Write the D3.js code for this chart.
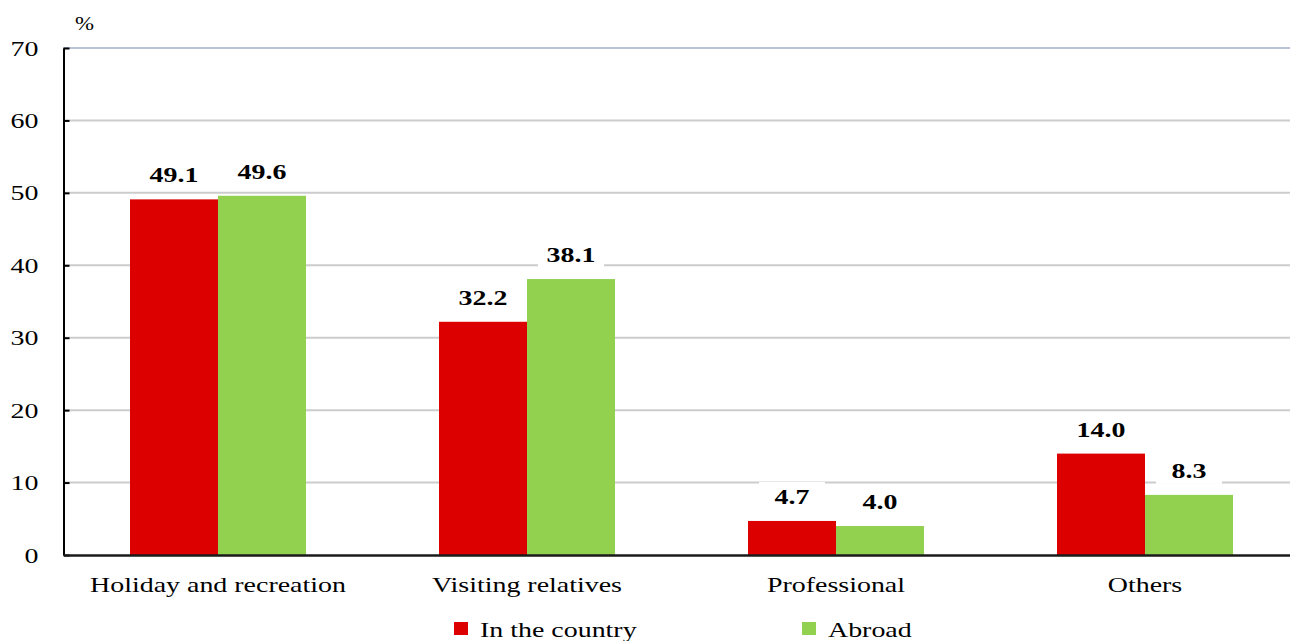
<!DOCTYPE html>
<html><head><meta charset="utf-8">
<script src="https://cdn.jsdelivr.net/npm/d3@7"></script>
<style>body{margin:0;background:#fff;overflow:hidden}svg{display:block}</style>
</head><body>
<script>
const categories = ["Holiday and recreation","Visiting relatives","Professional","Others"];
const seriesNames = ["In the country","Abroad"];
const inCountry = [49.1, 32.2, 4.7, 14.0];
const abroad = [49.6, 38.1, 4.0, 8.3];
const yTicks = [0,10,20,30,40,50,60,70];
const colors = ["#dd0000","#92d050"];

const W=1290,H=641,S=1.27;
const svg=d3.select("body").append("svg").attr("width",W).attr("height",H);
const font="'Liberation Serif','Times New Roman',serif";
const x0=63.5, plotRight=1299.5, yTop=48, yBot=555;
const x=d3.scaleBand().domain(categories).range([x0,plotRight]).paddingInner(0).paddingOuter(0);
const y=d3.scaleLinear().domain([0,70]).range([yBot,yTop]);
const barW=88;
const xs=d3.scaleBand().domain(seriesNames).range([0,barW*2]);
function stretch(sel){sel.each(function(){const t=d3.select(this);const xv=+t.attr("x")||0;t.attr("x",xv/S).attr("transform",`scale(${S},1)`);});}

// gridlines
svg.append("g").selectAll("line").data(yTicks.filter(t=>t>0)).join("line")
 .attr("x1",x0).attr("x2",W).attr("y1",d=>y(d)).attr("y2",d=>y(d))
 .attr("stroke",d=>d===70?"#b8c4d6":"#cccccc").attr("stroke-width",2);

const data=[inCountry,abroad];
const g=svg.append("g");
data.forEach((vals,si)=>{
  g.selectAll(".b"+si).data(categories).join("rect")
   .attr("x",(c)=>x(c)+x.bandwidth()/2-barW+xs(seriesNames[si]))
   .attr("y",(c,i)=>y(vals[i])).attr("width",barW)
   .attr("height",(c,i)=>yBot-y(vals[i])).attr("fill",colors[si]);
});
// labels with white bg
data.forEach((vals,si)=>{
  categories.forEach((c,i)=>{
    const cx=x(c)+x.bandwidth()/2-barW+xs(seriesNames[si])+barW/2;
    const ty=y(vals[i])-17;
    svg.append("rect").attr("x",cx-33).attr("y",ty-22).attr("width",66).attr("height",28).attr("fill","#fff");
    svg.append("text").attr("x",cx).attr("y",ty).attr("text-anchor","middle")
      .attr("font-family",font).attr("font-weight","bold").attr("font-size",22).attr("fill","#000").text(vals[i].toFixed(1))
      .call(stretch);
  });
});

// y axis
const ya=svg.append("g").attr("transform",`translate(${x0},0)`)
 .call(d3.axisLeft(y).tickValues(yTicks).tickSize(-0).tickSizeOuter(0).tickPadding(10));
ya.select(".domain").attr("stroke","#000").attr("stroke-width",2);
ya.selectAll(".tick line").attr("x2",6).attr("stroke","#000").attr("stroke-width",2);
ya.selectAll(".tick text").attr("font-family",font).attr("font-size",22).attr("fill","#000").attr("x",-25).attr("dy","0.32em").call(stretch);
// x axis
const xa=svg.append("g").attr("transform",`translate(0,${yBot})`)
 .call(d3.axisBottom(x).tickSize(0).tickPadding(21));
xa.select(".domain").attr("stroke","#1a1a1a").attr("stroke-width",2.5);
xa.selectAll(".tick text").attr("font-family",font).attr("font-size",22).attr("fill","#000").call(stretch);

svg.append("text").attr("x",75).attr("y",30).attr("font-family",font).attr("font-size",18).text("%").call(stretch);

// legend
const leg=[{n:seriesNames[0],c:colors[0],x:454},{n:seriesNames[1],c:colors[1],x:802}];
leg.forEach(l=>{
  svg.append("rect").attr("x",l.x).attr("y",622).attr("width",14).attr("height",13).attr("fill",l.c);
  svg.append("text").attr("x",l.x+26).attr("y",637).attr("font-family",font).attr("font-size",22).text(l.n).call(stretch);
});
</script>
</body></html>
